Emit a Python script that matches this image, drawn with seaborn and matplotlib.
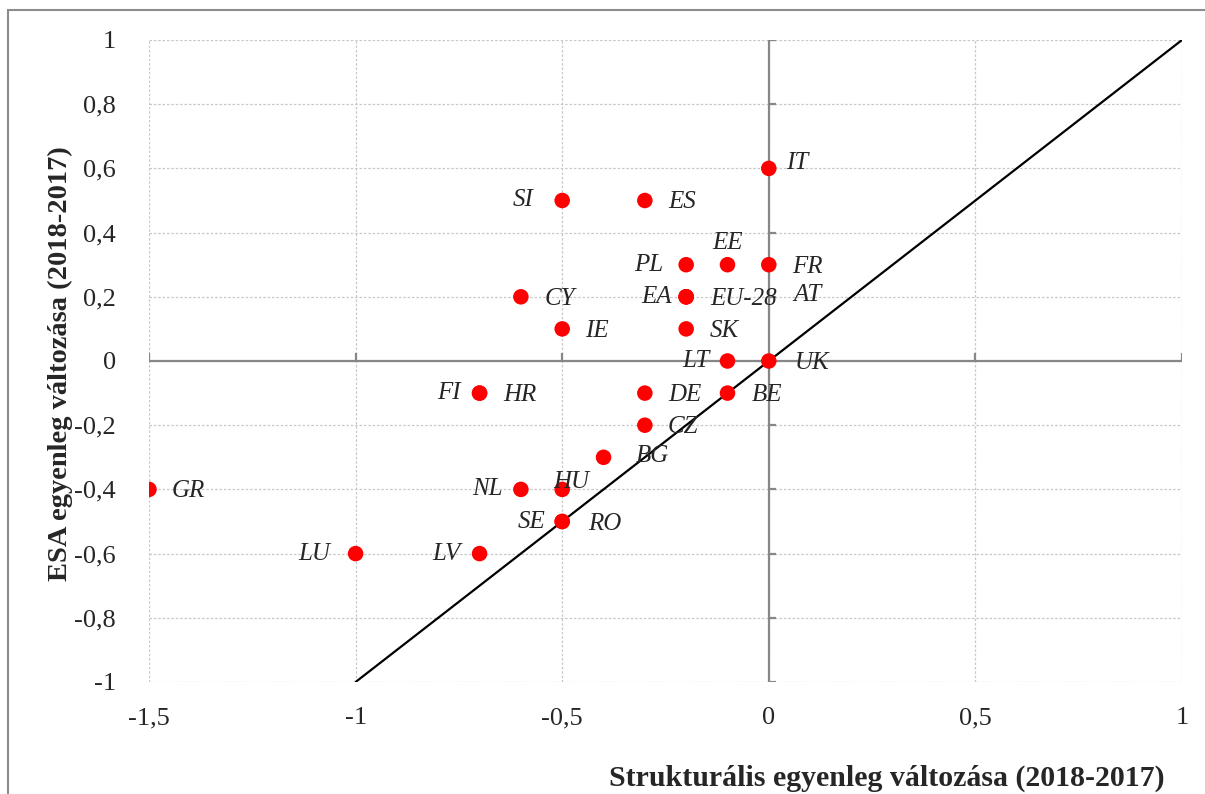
import pandas as pd
import seaborn as sns
import matplotlib.pyplot as plt
from matplotlib.ticker import FuncFormatter, MultipleLocator
from matplotlib.patches import Rectangle

# adatok: strukturális egyenleg (x) és ESA egyenleg (y) változása
countries = ['GR', 'LU', 'LV', 'FI', 'HR', 'NL', 'HU', 'SE', 'RO', 'BG', 'CZ', 'DE',
             'CY', 'IE', 'SI', 'ES', 'PL', 'EE', 'FR', 'EA', 'EU-28', 'AT', 'SK',
             'LT', 'UK', 'BE', 'IT']
strukt = [-1.5, -1.0, -0.7, -0.7, -0.7, -0.6, -0.5, -0.5, -0.5, -0.4, -0.3, -0.3,
          -0.6, -0.5, -0.5, -0.3, -0.2, -0.1, 0.0, -0.2, -0.2, -0.2, -0.2,
          -0.1, 0.0, -0.1, 0.0]
esa = [-0.4, -0.6, -0.6, -0.1, -0.1, -0.4, -0.4, -0.5, -0.5, -0.3, -0.2, -0.1,
       0.2, 0.1, 0.5, 0.5, 0.3, 0.3, 0.3, 0.2, 0.2, 0.2, 0.1,
       0.0, 0.0, -0.1, 0.6]

diag_x = [-1, 1]
diag_y = [-1, 1]

df = pd.DataFrame({'country': countries, 'x': strukt, 'y': esa})

# címke eltolások (pixel) és igazítás
label_pos = {
    'GR': (23, -2, 'left'), 'LU': (-25, 0, 'right'), 'LV': (-19, 0, 'right'),
    'FI': (-19, 0, 'right'), 'HR': (24, -2, 'left'), 'NL': (-18, 0, 'right'),
    'HU': (-9, 7, 'left'), 'SE': (-17, 0, 'right'), 'RO': (26, -2, 'left'),
    'BG': (32, 1, 'left'), 'CZ': (23, -2, 'left'), 'DE': (23, -2, 'left'),
    'CY': (24, -2, 'left'), 'IE': (23, -2, 'left'), 'SI': (-29, 0, 'right'),
    'ES': (23, -2, 'left'), 'PL': (-23, 0, 'right'), 'EE': (0, 22, 'center'),
    'FR': (23, -2, 'left'), 'EA': (-14, 0, 'right'), 'EU-28': (24, -2, 'left'),
    'AT': (107, 2, 'left'), 'SK': (24, -2, 'left'), 'LT': (-18, 0, 'right'),
    'UK': (26, -2, 'left'), 'BE': (24, -2, 'left'), 'IT': (17, 5, 'left'),
}

sns.set_style("white")
plt.rcParams['font.family'] = ['Liberation Serif', 'DejaVu Serif']

fig = plt.figure(figsize=(12.05, 7.94), dpi=100)
ax = fig.add_axes([149 / 1205, 1 - 682 / 794, (1182 - 149) / 1205, (682 - 40) / 794])

# külső keret
fig.patches.append(Rectangle((8 / 1205, -0.05), 1.1, 1 - 10 / 794 + 0.05,
                             transform=fig.transFigure, fill=False,
                             edgecolor='#8c8c8c', linewidth=1.5, zorder=0))

ax.set_xlim(-1.5, 1)
ax.set_ylim(-1, 1)
ax.xaxis.set_major_locator(MultipleLocator(0.5))
ax.yaxis.set_major_locator(MultipleLocator(0.2))
ax.grid(True, color='#c8c8c8', linestyle=(0, (2, 1.5)), linewidth=0.9)
for s in ax.spines.values():
    s.set_visible(False)

# nulla tengelyek
ax.axhline(0, color='#878787', linewidth=1.6, zorder=2)
ax.axvline(0, color='#878787', linewidth=1.6, zorder=2)
xt = [-1.5, -1, -0.5, 0.5, 1]
yt = [-1, -0.8, -0.6, -0.4, -0.2, 0.2, 0.4, 0.6, 0.8, 1]
ax.vlines(xt, 0, 0.025, color='#878787', linewidth=1.6, zorder=2)
ax.hlines(yt, 0, 0.017, color='#878787', linewidth=1.6, zorder=2)

# átló
ax.plot(diag_x, diag_y, color='black', linewidth=1.6, zorder=3)

sns.scatterplot(data=df, x='x', y='y', ax=ax, color='#ff0000', s=125,
                edgecolor='none', zorder=4, legend=False)

for c, xv, yv in zip(countries, strukt, esa):
    dx, dy, ha = label_pos[c]
    ax.annotate(c, (xv, yv), xytext=(dx, dy), textcoords='offset pixels',
                ha=ha, va='center', fontsize=18, fontstyle='italic', zorder=5)

fmt = FuncFormatter(lambda v, p: ('%g' % round(v, 2)).replace('.', ','))
ax.xaxis.set_major_formatter(fmt)
ax.yaxis.set_major_formatter(fmt)
ax.tick_params(axis='x', length=0, pad=18, labelsize=19)
ax.tick_params(axis='y', length=0, pad=24, labelsize=19)

ax.set_xlabel('')
ax.set_ylabel('')
fig.text(60 / 1205, 1 - 364 / 794, 'ESA egyenleg változása (2018-2017)', rotation=90,
         ha='center', va='center', fontsize=20.5, fontweight='bold')
fig.text(1165 / 1205, 1 - 778 / 794, 'Strukturális egyenleg változása (2018-2017)',
         ha='right', va='center', fontsize=21.5, fontweight='bold')

fig.savefig('out.png', dpi=100)
